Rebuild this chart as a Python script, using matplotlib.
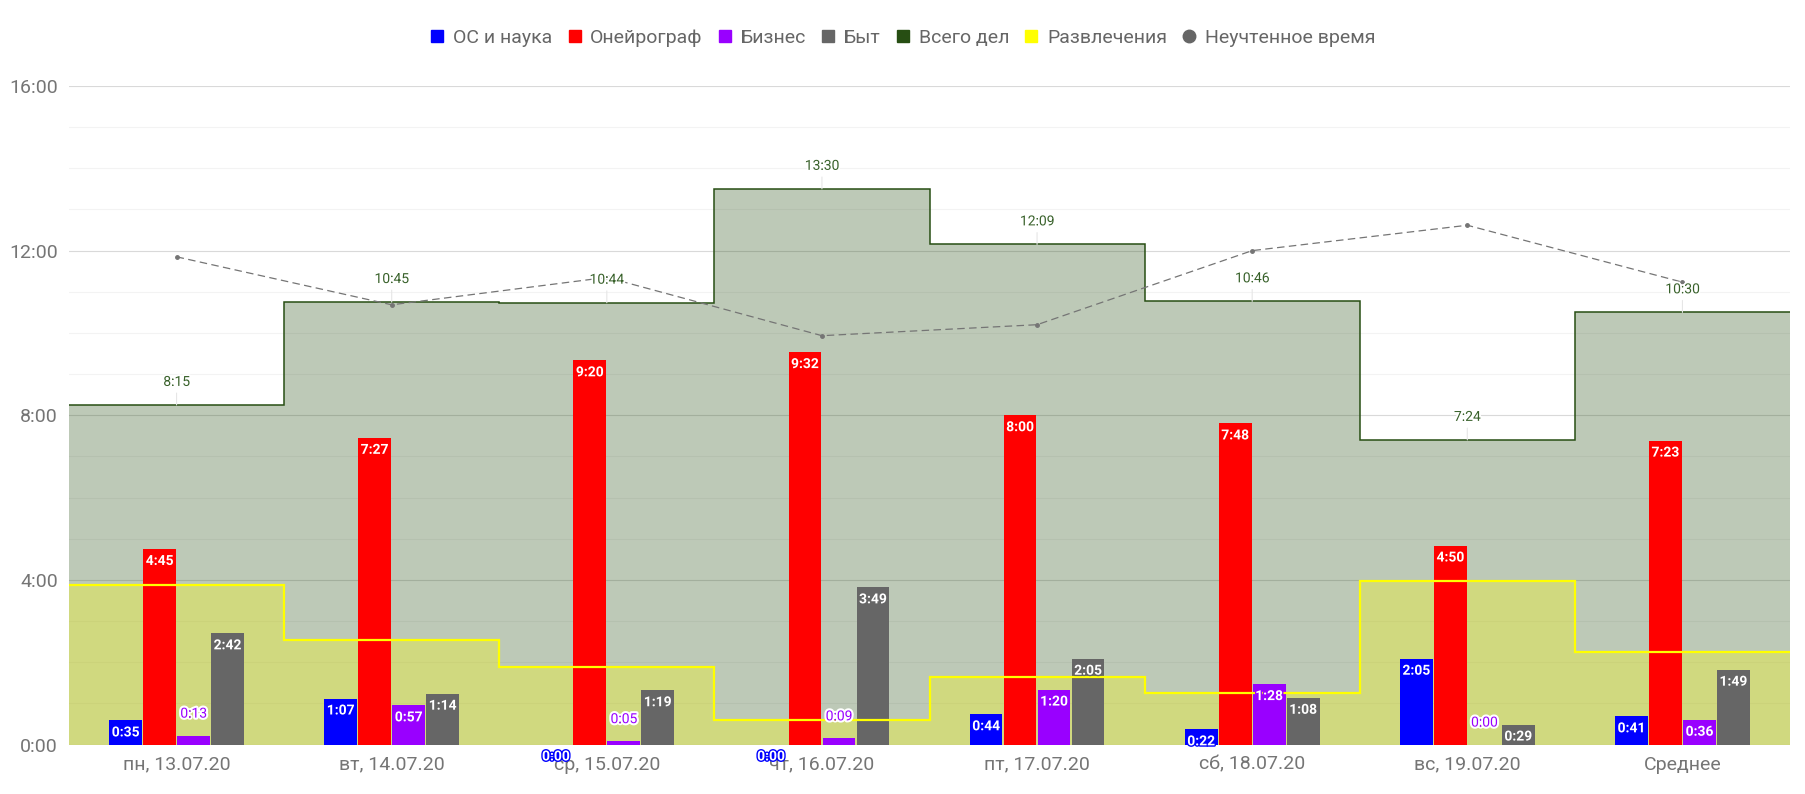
import matplotlib
matplotlib.use('Agg')
import matplotlib.pyplot as plt
import matplotlib.patheffects as pe
from matplotlib.lines import Line2D
import numpy as np

plt.rcParams['font.family'] = ['Roboto', 'DejaVu Sans']

# --- data (h:mm) ---
days = ['пн, 13.07.20', 'вт, 14.07.20', 'ср, 15.07.20', 'чт, 16.07.20',
        'пт, 17.07.20', 'сб, 18.07.20', 'вс, 19.07.20', 'Среднее']

os_science = ['0:35', '1:07', '0:00', '0:00', '0:44', '0:22', '2:05', '0:41']
oneirograph = ['4:45', '7:27', '9:20', '9:32', '8:00', '7:48', '4:50', '7:23']
business = ['0:13', '0:57', '0:05', '0:09', '1:20', '1:28', '0:00', '0:36']
household = ['2:42', '1:14', '1:19', '3:49', '2:05', '1:08', '0:29', '1:49']
total = ['8:15', '10:45', '10:44', '13:30', '12:09', '10:46', '7:24', '10:30']
leisure = ['3:53', '2:33', '1:53', '0:35', '1:39', '1:15', '3:58', '2:15']
unaccounted = ['11:51', '10:41', '11:21', '9:56', '10:12', '12:00', '12:37', '11:14']

y_ticks = ['0:00', '4:00', '8:00', '12:00', '16:00']


def hours(s):
    h, m = s.split(':')
    return int(h) + int(m) / 60


def to_h(lst):
    return np.array([hours(s) for s in lst])


fig = plt.figure(figsize=(18.05, 7.94), dpi=100)
ax = fig.add_axes([69 / 1805, 49.5 / 794, (1790 - 69) / 1805, (744.5 - 86) / 794])

x = np.arange(len(days))
edges = np.arange(len(days) + 1) - 0.5

# step areas
green = '#274e13'
yellow = '#ffff00'
tot_h = to_h(total)
lei_h = to_h(leisure)
ax.stairs(tot_h, edges, fill=True, color=green, alpha=0.3, lw=0, zorder=1)
ax.stairs(tot_h, edges, baseline=None, color=green, lw=1.1, zorder=2)
ax.stairs(lei_h, edges, fill=True, color=yellow, alpha=0.3, lw=0, zorder=1.5)

# bars
series = [('ОС и наука', os_science, '#0000ff'),
          ('Онейрограф', oneirograph, '#ff0000'),
          ('Бизнес', business, '#9900ff'),
          ('Быт', household, '#666666')]
step = 0.158
width = 0.152
for k, (name, vals, col) in enumerate(series):
    off = (k - 1.5) * step
    vh = to_h(vals)
    ax.bar(x + off, vh, width=width, color=col, zorder=3)
    for i, (s, v) in enumerate(zip(vals, vh)):
        if name == 'Бизнес' and v < 0.3:
            # short purple bars: label sits above the bar
            ax.annotate(s, xy=(i + off, v), xytext=(0, 15.8), textcoords='offset points',
                        ha='center', va='center', fontsize=10, color=col,
                        path_effects=[pe.withStroke(linewidth=3, foreground='white')],
                        zorder=6, annotation_clip=False)
        else:
            ax.annotate(s, xy=(i + off, v), xytext=(0, -8.6), textcoords='offset points',
                        ha='center', va='center', fontsize=10, color='white', fontweight='bold',
                        path_effects=[pe.withStroke(linewidth=2, foreground=col)],
                        zorder=6, annotation_clip=False)

# leisure line over bars
ax.stairs(lei_h, edges, baseline=None, color=yellow, lw=1.6, zorder=4)

# unaccounted time
ax.plot(x, to_h(unaccounted), color='#757575', lw=0.9, ls=(0, (6, 3.5)),
        marker='o', markersize=2.5, zorder=5)

# total labels
for i, (s, v) in enumerate(zip(total, tot_h)):
    ax.annotate(s, xy=(i, v), xytext=(0, 16.6), textcoords='offset points',
                ha='center', va='center', fontsize=10, color='#38612a',
                path_effects=[pe.withStroke(linewidth=2.5, foreground='white')],
                arrowprops=dict(arrowstyle='-', color='#e6e6e6', lw=0.8, shrinkA=1, shrinkB=0),
                zorder=5.5)

# axes styling
ax.set_xlim(-0.5, len(days) - 0.5)
ax.set_ylim(0, 16)
ax.set_yticks([0, 4, 8, 12, 16])
ax.set_yticklabels(y_ticks)
ax.set_yticks([h for h in range(1, 16) if h % 4], minor=True)
ax.set_xticks(x)
ax.set_xticklabels(days)
ax.tick_params(axis='both', which='both', length=0, labelsize=14, labelcolor='#757575')
ax.tick_params(axis='y', pad=8)
ax.tick_params(axis='x', pad=8)
ax.grid(axis='y', which='major', color='#d9d9d9', lw=0.8, zorder=0)
ax.grid(axis='y', which='minor', color='#f3f3f3', lw=0.8, zorder=0)
ax.set_axisbelow(True)
for sp in ax.spines.values():
    sp.set_visible(False)

# legend
handles = [Line2D([], [], marker='s', ls='none', color=c, markersize=9) for c in
           ['#0000ff', '#ff0000', '#9900ff', '#666666', green, yellow]]
handles.append(Line2D([], [], marker='o', ls='none', color='#666666', markersize=9))
labels = ['ОС и наука', 'Онейрограф', 'Бизнес', 'Быт', 'Всего дел', 'Развлечения', 'Неучтенное время']
fig.legend(handles, labels, loc='center', bbox_to_anchor=(0.5, 1 - 38 / 794), ncol=7,
           frameon=False, fontsize=14, handlelength=0.8, handletextpad=0.4,
           columnspacing=0.75, labelcolor='#666666')

fig.savefig('out.png', dpi=100)
